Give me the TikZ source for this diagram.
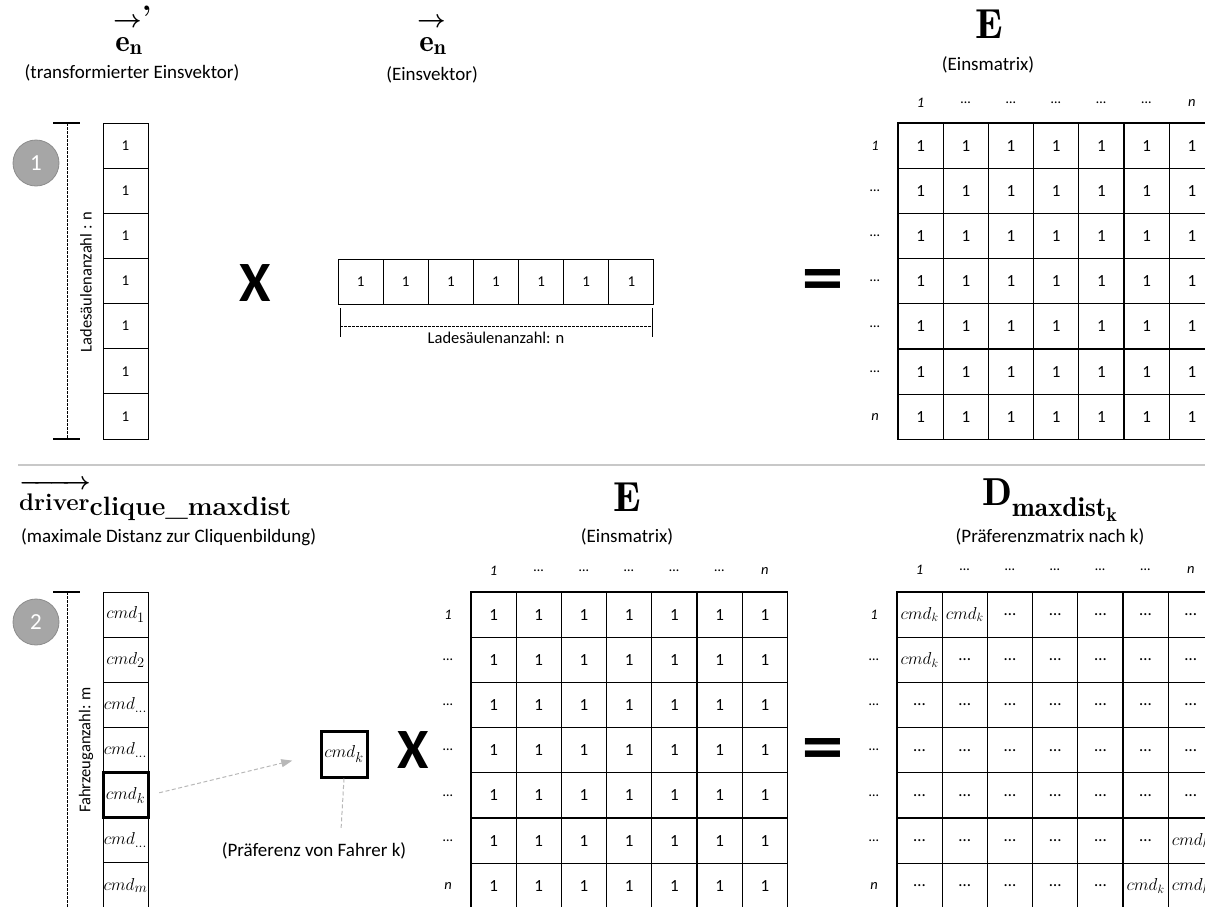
\documentclass[tikz,border=0pt]{standalone}
\usepackage{amsmath,amssymb}
\usepackage{fontspec}
\usepackage{tikz}
\usetikzlibrary{arrows.meta,positioning}
\newfontfamily\calibri{Carlito}
\newfontfamily\symfont{DejaVu Sans}
\definecolor{figGray}{HTML}{A6A6A6}
\definecolor{figGrayDark}{HTML}{8C8C8C}
\definecolor{figRule}{HTML}{C8C8C8}
\definecolor{figPtr}{HTML}{B8B8B8}

\begin{document}
\begin{tikzpicture}[
  x=1pt,y=-1pt,
  cell/.style={draw=black, line width=1.1pt, minimum width=45.2pt, minimum height=45.2pt,
    inner sep=0pt, font=\calibri\fontsize{17}{19}\selectfont},
  vcell/.style={draw=black, line width=0.9pt, minimum width=45pt, minimum height=45.1pt,
    inner sep=0pt, font=\calibri\fontsize{15}{17}\selectfont},
  mcell/.style={vcell, font=\fontsize{19}{21}\selectfont},
  hdr/.style={font=\calibri\itshape\fontsize{14.5}{16}\selectfont, inner sep=0pt},
  lbl/.style={font=\calibri\fontsize{16.5}{19}\selectfont, inner sep=0pt},
  sub/.style={font=\calibri\fontsize{19}{22}\selectfont, inner sep=0pt},
  ttl/.style={font=\fontsize{42}{44}\selectfont, inner sep=0pt},
  vec/.style={font=\fontsize{31}{33}\selectfont, inner sep=0pt},
  vecarr/.style={vec, anchor=west, text height=8pt, text depth=0pt},
  vecsym/.style={vec, text height=14pt, text depth=7pt},
  op/.style={font=\calibri\bfseries\fontsize{57}{60}\selectfont, inner sep=0pt},
  eq/.style={font=\symfont\bfseries\fontsize{56}{60}\selectfont, inner sep=0pt},
  num/.style={circle, fill=figGray, draw=figGrayDark, line width=0.8pt, minimum size=46pt,
    inner sep=0pt, text=white, font=\calibri\fontsize{23}{25}\selectfont},
  dim/.style={draw=black, line width=0.8pt, dash pattern=on 2.5pt off 1.5pt},
  tick/.style={draw=black, line width=1.2pt},
  ptr/.style={draw=figPtr, line width=1pt, dash pattern=on 4pt off 2.5pt}
]
\clip (0,0) rectangle (1205,906);

% ---- part 1 ----
\node[vecarr] (arr1) at (113,23) {$\boldsymbol{\rightarrow}$\textbf{'}};
\node[vecsym] (en1) at (129,47.5) {$\mathbf{e_n}$};
\node[sub] (sub1) at (132,73) {(transformierter Einsvektor)};
\node[vecarr] (arr2) at (417,23) {$\boldsymbol{\rightarrow}$};
\node[vecsym] (en2) at (433,47.5) {$\mathbf{e_n}$};
\node[sub] (sub2) at (432,75) {(Einsvektor)};
\node[ttl] (ea) at (989,24) {$\mathbf{E}$};
\node[sub] (sub3) at (988,65) {(Einsmatrix)};

\node[num] (n1) at (36,163) {1};
\coordinate (da1) at (67,123);
\coordinate (da2) at (67,439);
\draw[dim] (da1) -- (da2);
\draw[tick] (53,123) -- (80,123);
\draw[tick] (53,439) -- (80,439);
\node[lbl, rotate=90] (la) at (86,282) {Ladesäulenanzahl : n};
\foreach \r in {1,...,7} {
  \node[vcell] (ca\r) at (125.5,{123+45.14*\r-22.57}) {1};
}
\node[op] (xa) at (255,283) {X};
\foreach \c in {1,...,7} {
  \node[vcell] (ra\c) at ({338+45.14*\c-22.57},281.5) {1};
}
\coordinate (db1) at (340,326);
\coordinate (db2) at (652,326);
\draw[dim] (db1) -- (db2);
\draw[tick, line width=0.8pt] (340,308) -- (340,337);
\draw[tick, line width=0.8pt] (652,308) -- (652,337);
\node[lbl, fill=white, inner sep=1pt] (lb) at (496,338) {Ladesäulenanzahl: n};
\node[eq] (qa) at (823,283) {=};

\foreach \c/\t in {1/1,2/…,3/…,4/…,5/…,6/…,7/n} {
  \node[hdr] at ({898+45.2*\c-22.6},103) {\t};
}
\foreach \r/\t in {1/1,2/…,3/…,4/…,5/…,6/…,7/n} {
  \node[hdr] at (875,{123+45.2*\r-22.6}) {\t};
}
\foreach \r in {1,...,7} {
  \foreach \c in {1,...,7} {
    \node[cell] (ma\r\c) at ({898+45.2*\c-22.6},{123+45.2*\r-22.6}) {1};
  }
}

\draw[figRule, line width=1.5pt] (18,465) -- (1205,465);

% ---- part 2 ----
\node[font=\fontsize{24}{26}\selectfont, anchor=west, inner sep=0pt] (drvarr) at (19,481)
  {$\boldsymbol{\xrightarrow{\hspace{56pt}}}$};
\node[font=\bfseries\fontsize{24}{26}\selectfont, anchor=west, inner sep=0pt] (drv) at (19,507)
  {driver\raisebox{-5pt}{\fontsize{26.5}{28}\selectfont clique\_maxdist}};
\node[sub, anchor=west] (sub4) at (21,537) {(maximale Distanz zur Cliquenbildung)};
\node[ttl] (eb) at (627,497) {$\mathbf{E}$};
\node[sub] (sub5) at (627,537) {(Einsmatrix)};
\node[ttl, font=\fontsize{39}{41}\selectfont] (dm) at (1050,500) {$\mathbf{D_{maxdist_k}}$};
\node[sub] (sub6) at (1050,537) {(Präferenzmatrix nach k)};

\node[num] (n2) at (36,622) {2};
\coordinate (dc1) at (67,592);
\coordinate (dc2) at (67,920);
\draw[dim] (dc1) -- (dc2);
\draw[tick] (53,592) -- (80,592);
\node[lbl, rotate=90] (lc) at (86,750) {Fahrzeuganzahl: m};
\foreach \r/\t in {1/1,2/2,3/\dots,4/\dots,6/\dots,7/m} {
  \node[mcell] (cb\r) at (125.5,{592+45.14*\r-22.57}) {$cmd_{\t}$};
}
\node[mcell, line width=3pt] (cbk) at (125.5,{592+45.14*5-22.57}) {$cmd_k$};
\node[mcell, line width=3pt, minimum width=46pt, minimum height=46pt] (pk) at (344,754) {$cmd_k$};
\draw[ptr, -{Triangle[length=11pt,width=8pt]}, shorten <=10pt, shorten >=28pt] (cbk.east) -- (pk.west);
\coordinate (pkend) at (341,830);
\draw[ptr] (pk.south) -- (pkend);
\node[sub] (pref) at (314,851) {(Präferenz von Fahrer k)};
\node[op] (xb) at (413,750) {X};

\foreach \c/\t in {1/1,2/…,3/…,4/…,5/…,6/…,7/n} {
  \node[hdr] at ({471+45.2*\c-22.6},571) {\t};
}
\foreach \r/\t in {1/1,2/…,3/…,4/…,5/…,6/…,7/n} {
  \node[hdr] at (448,{592+45.2*\r-22.6}) {\t};
}
\foreach \r in {1,...,7} {
  \foreach \c in {1,...,7} {
    \node[cell] (mb\r\c) at ({471+45.2*\c-22.6},{592+45.2*\r-22.6}) {1};
  }
}
\node[eq] (qb) at (823,752) {=};

\foreach \c/\t in {1/1,2/…,3/…,4/…,5/…,6/…,7/n} {
  \node[hdr] at ({897+45.2*\c-22.6},570) {\t};
}
\foreach \r/\t in {1/1,2/…,3/…,4/…,5/…,6/…,7/n} {
  \node[hdr] at (874,{592+45.2*\r-22.6}) {\t};
}
\foreach \r in {1,...,7} {
  \foreach \c in {1,...,7} {
    \pgfmathtruncatemacro\iscmd{(\r==1 && \c<=2) || (\r==2 && \c==1) || (\r==6 && \c==7) || (\r==7 && \c>=6)}
    \ifnum\iscmd=1
      \node[cell, font=\fontsize{18}{20}\selectfont] (md\r\c) at ({897+45.2*\c-22.6},{592+45.2*\r-22.6}) {$cmd_k$};
    \else
      \node[cell] (md\r\c) at ({897+45.2*\c-22.6},{592+45.2*\r-22.6}) {…};
    \fi
  }
}
\end{tikzpicture}
\end{document}
